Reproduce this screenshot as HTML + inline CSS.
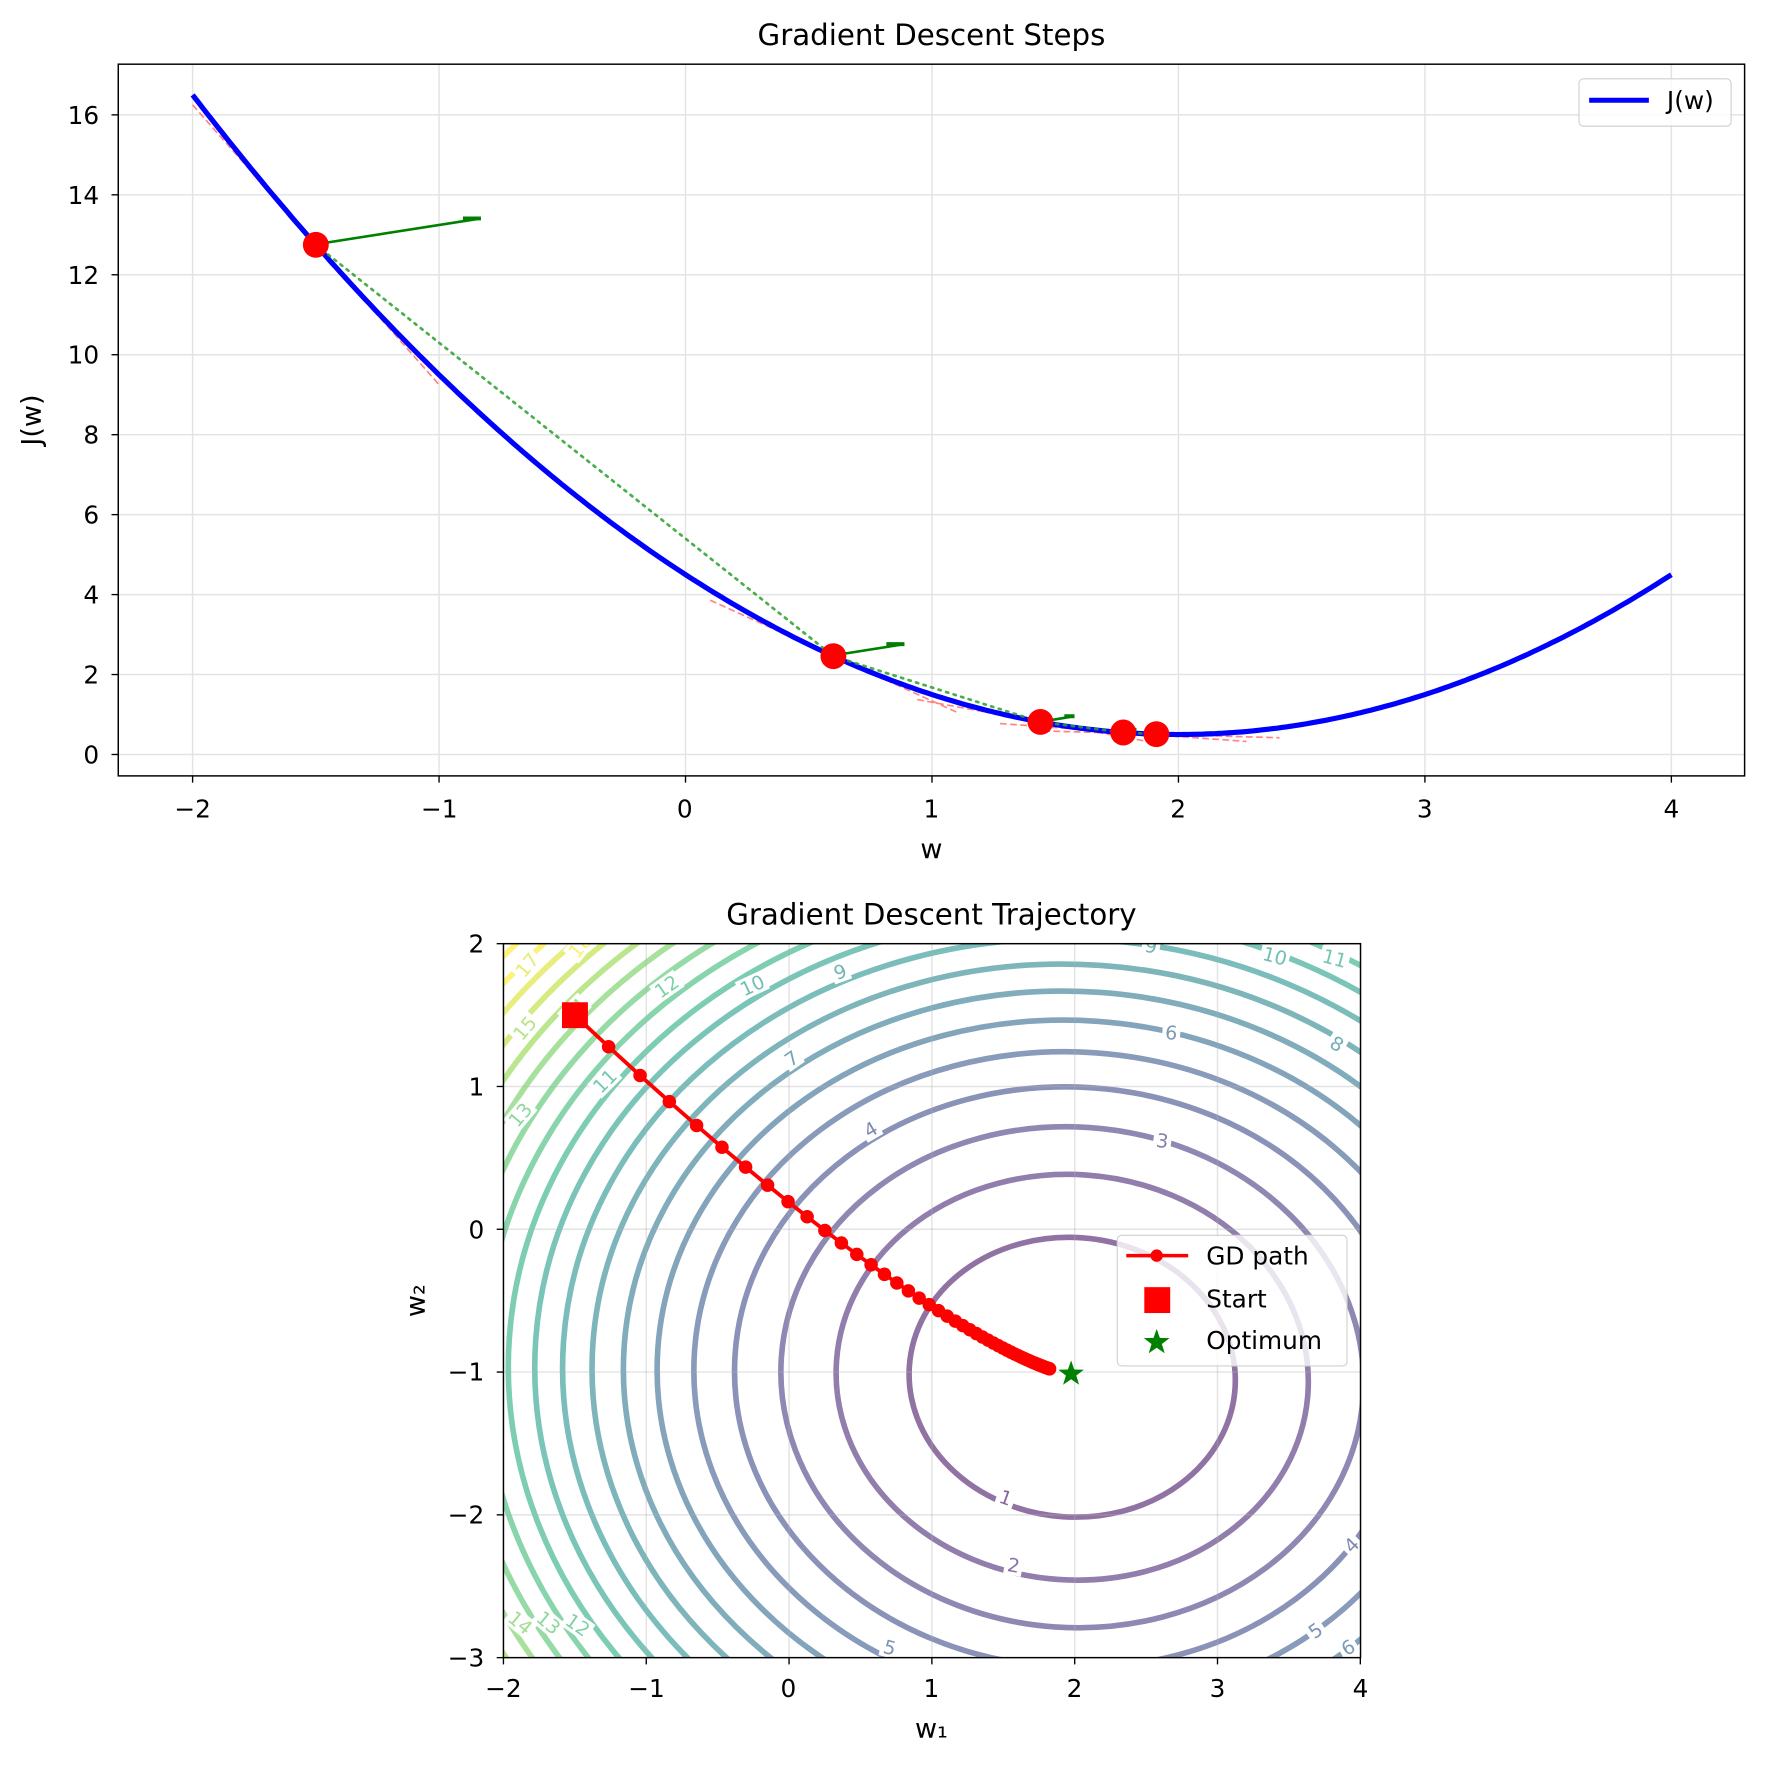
<!DOCTYPE html>
<html><head><meta charset="utf-8"><style>
html,body{margin:0;padding:0;background:#fff;overflow:hidden;width:1766px;height:1768px}
svg{display:block;position:absolute;left:0;top:0}
text{font-family:"DejaVu Sans","Liberation Sans",sans-serif;fill:#000}
</style></head><body>
<svg id="s" width="1766" height="1768" viewBox="0 0 1568 1570" preserveAspectRatio="none" xmlns="http://www.w3.org/2000/svg">
<defs><clipPath id="c1"><rect x="105" y="57" width="1444" height="632"/></clipPath>
<clipPath id="c2"><rect x="447" y="838" width="761" height="634"/></clipPath></defs>
<rect width="1568" height="1570" fill="#fff"/>
<g id="top"></g>
<g id="bot"></g>
<text x="827" y="40" font-size="26" text-anchor="middle">Gradient Descent Steps</text>
<g font-size="22" text-anchor="middle">
<text x="171" y="726">−2</text><text x="390" y="726">−1</text><text x="608" y="726">0</text><text x="827" y="726">1</text><text x="1046" y="726">2</text><text x="1265" y="726">3</text><text x="1484" y="726">4</text>
</g>
<text x="827" y="762" font-size="24" text-anchor="middle">w</text>
<g font-size="22" text-anchor="end">
<text x="88" y="678">0</text><text x="88" y="607">2</text><text x="88" y="536">4</text><text x="88" y="465">6</text><text x="88" y="394">8</text><text x="88" y="323">10</text><text x="88" y="252">12</text><text x="88" y="181">14</text><text x="88" y="110">16</text>
</g>
<text transform="translate(36,373) rotate(-90)" font-size="24" text-anchor="middle">J(w)</text>
<rect x="1402" y="70" width="135" height="42" rx="4" fill="#fff" fill-opacity="0.8" stroke="#d0d0d0"/>
<line x1="1411" y1="89" x2="1464" y2="89" stroke="#0000ff" stroke-width="4.5"/>
<text x="1480" y="97" font-size="22">J(w)</text>
<text x="827" y="821" font-size="26" text-anchor="middle">Gradient Descent Trajectory</text>
<g font-size="22" text-anchor="middle">
<text x="447" y="1507">−2</text><text x="574" y="1507">−1</text><text x="700" y="1507">0</text><text x="827" y="1507">1</text><text x="954" y="1507">2</text><text x="1081" y="1507">3</text><text x="1208" y="1507">4</text>
</g>
<text x="827" y="1543" font-size="24" text-anchor="middle">w₁</text>
<g font-size="22" text-anchor="end">
<text x="430" y="846">2</text><text x="430" y="973">1</text><text x="430" y="1100">0</text><text x="430" y="1226">−1</text><text x="430" y="1353">−2</text><text x="430" y="1480">−3</text>
</g>
<text transform="translate(377,1155) rotate(-90)" font-size="24" text-anchor="middle">w₂</text>
<g id="legb">
<rect x="992" y="1097" width="204" height="116" rx="4" fill="#fff" fill-opacity="0.8" stroke="#d0d0d0"/>
<line x1="1000" y1="1115" x2="1055" y2="1115" stroke="#ff0000" stroke-width="3.2"/>
<circle cx="1027" cy="1115" r="5.5" fill="#ff0000"/>
<rect x="1016" y="1143" width="23" height="23" fill="#ff0000"/>
<polygon id="lstar" fill="#008000"/>
<text x="1071" y="1123" font-size="22">GD path</text>
<text x="1071" y="1161" font-size="22">Start</text>
<text x="1071" y="1198" font-size="22">Optimum</text>
</g>
</svg>
<script>
const NS="http://www.w3.org/2000/svg";
function el(p,t,a){const e=document.createElementNS(NS,t);for(const k in a)e.setAttribute(k,a[k]);p.appendChild(e);return e;}
const T=document.getElementById('top');
const X=w=>171+(w+2)*218.83, Y=j=>670-j*35.5;
for(let w=-2;w<=4;w++) el(T,'line',{x1:X(w),y1:57,x2:X(w),y2:689,stroke:'#e3e3e3','stroke-width':1.3});
for(let j=0;j<=16;j+=2) el(T,'line',{x1:105,y1:Y(j),x2:1549,y2:Y(j),stroke:'#e3e3e3','stroke-width':1.3});
const g1=el(T,'g',{'clip-path':'url(#c1)'});
const J=w=>(w-2)*(w-2)+0.5;
const pts=[-1.5,0.6,1.44,1.776,1.9104];
pts.forEach(w=>{const s=2*(w-2);el(g1,'line',{x1:X(w-0.5),y1:Y(J(w)-0.5*s),x2:X(w+0.5),y2:Y(J(w)+0.5*s),stroke:'#ff7070','stroke-width':1.5,'stroke-dasharray':'6,3',opacity:0.85});});
let d='';for(let i=0;i<=300;i++){const w=-2+6*i/300;d+=(i?'L':'M')+X(w).toFixed(1)+','+Y(J(w)).toFixed(1);}
el(g1,'path',{d:d,fill:'none',stroke:'#0000ff','stroke-width':4.6});
for(let i=0;i<pts.length-1;i++) el(g1,'line',{x1:X(pts[i]),y1:Y(J(pts[i])),x2:X(pts[i+1]),y2:Y(J(pts[i+1])),stroke:'#2ca02c','stroke-width':2.4,'stroke-dasharray':'2,5','stroke-linecap':'round',opacity:0.85});
[[280,217,427,194],[740,582,803,572],[924,641,954,636],[997,650,1009,648]].forEach(a=>{
 el(g1,'line',{x1:a[0],y1:a[1],x2:a[2],y2:a[3],stroke:'#008000','stroke-width':2.3});
 el(g1,'line',{x1:a[2]-Math.min(16,(a[2]-a[0])*0.3),y1:a[3],x2:a[2],y2:a[3],stroke:'#008000','stroke-width':3.5});
});
pts.forEach(w=>el(g1,'circle',{cx:X(w),cy:Y(J(w)),r:11.5,fill:'#ff0000'}));
el(T,'rect',{x:105,y:57,width:1444,height:632,fill:'none',stroke:'#000','stroke-width':1.3});
for(let w=-2;w<=4;w++) el(T,'line',{x1:X(w),y1:689,x2:X(w),y2:695,stroke:'#000','stroke-width':1.2});
for(let j=0;j<=16;j+=2) el(T,'line',{x1:99,y1:Y(j),x2:105,y2:Y(j),stroke:'#000','stroke-width':1.2});
const B=document.getElementById('bot');
const U=126.8, BX=w=>447+(w+2)*U, BY=v=>838+(2-v)*U;
const g2=el(B,'g',{'clip-path':'url(#c2)'});
const vir=[[68,1,84],[72,36,117],[65,68,135],[53,95,141],[42,120,142],[33,145,140],[34,168,132],[68,191,112],[122,209,81],[189,223,38],[253,231,37]];
function cm(t){t=Math.max(0,Math.min(1,t))*10;const i=Math.min(9,Math.floor(t)),f=t-i;const a=vir[i],b=vir[i+1];return 'rgb('+a.map((v,k)=>Math.round(v+(b[k]-v)*f)).join(',')+')';}
const cx=952,cy=1223;
for(let L=1;L<=20;L++){const rx=Math.sqrt(23000*L-2000),ry=Math.sqrt(17000*L-1600);
 el(g2,'ellipse',{cx:cx,cy:cy,rx:rx,ry:ry,fill:'none',stroke:cm(L/18),'stroke-width':5,'stroke-opacity':0.6,transform:'rotate(4 '+cx+' '+cy+')'});}
for(let w=-2;w<=4;w++) el(g2,'line',{x1:BX(w),y1:838,x2:BX(w),y2:1472,stroke:'#b0b0b0','stroke-width':1.3,opacity:0.35});
for(let v=-3;v<=2;v++) el(g2,'line',{x1:447,y1:BY(v),x2:1208,y2:BY(v),stroke:'#b0b0b0','stroke-width':1.3,opacity:0.35});
const labs=[[1,893,1330,20],[2,900,1390,10],[3,1032,1013,8],[4,773,1003,-30],[6,1040,917,5],[7,703,940,-35],[9,746,863,-20],[10,668,875,-25],[12,592,876,-35],[11,537,960,-45],[13,462,990,-50],[15,466,913,-50],[14,510,897,-45],[17,468,857,-50],[18,515,840,-50],[8,1187,927,30],[10,1132,849,15],[11,1185,851,15],[9,1022,840,10],[4,1200,1372,-45],[5,1168,1448,-35],[6,1197,1463,-30],[5,790,1463,15],[14,462,1441,40],[13,487,1441,40],[12,513,1443,35]];
labs.forEach(l=>{el(g2,'rect',{x:l[1]-(l[0]>9?13:8),y:l[2]-9,width:l[0]>9?26:16,height:18,fill:'#fff',transform:'rotate('+l[3]+' '+l[1]+' '+l[2]+')'});
 const t=el(g2,'text',{x:l[1],y:l[2]+6,'font-size':17,'text-anchor':'middle',transform:'rotate('+l[3]+' '+l[1]+' '+l[2]+')'});t.style.fill=cm(l[0]/18);t.style.fillOpacity=0.65;t.textContent=l[0];});
let p=[],x=510.4,y=901.6;const tx=945,ty=1219;
for(let i=0;i<50;i++){p.push([x,y]);x=tx-(tx-x)*0.931;y=ty-(ty-y)*0.912;}
el(g2,'polyline',{points:p.map(q=>q.map(v=>v.toFixed(1)).join(',')).join(' '),fill:'none',stroke:'#ff0000','stroke-width':3.4});
p.forEach(q=>el(g2,'circle',{cx:q[0],cy:q[1],r:6,fill:'#ff0000'}));
el(g2,'rect',{x:499,y:890,width:23,height:23,fill:'#ff0000'});
function star(cx,cy,R){let s='';for(let i=0;i<10;i++){const r=i%2?R*0.4:R,a=-Math.PI/2+i*Math.PI/5;s+=(cx+r*Math.cos(a)).toFixed(1)+','+(cy+r*Math.sin(a)).toFixed(1)+' ';}return s;}
el(g2,'polygon',{points:star(951,1220,12),fill:'#008000'});
document.getElementById('lstar').setAttribute('points',star(1027,1192,12));
el(B,'rect',{x:447,y:838,width:761,height:634,fill:'none',stroke:'#000','stroke-width':1.3});
for(let w=-2;w<=4;w++) el(B,'line',{x1:BX(w),y1:1472,x2:BX(w),y2:1478,stroke:'#000','stroke-width':1.2});
for(let v=-3;v<=2;v++) el(B,'line',{x1:441,y1:BY(v),x2:447,y2:BY(v),stroke:'#000','stroke-width':1.2});
const s=document.getElementById('s');s.appendChild(document.getElementById('legb'));
</script>
</body></html>
